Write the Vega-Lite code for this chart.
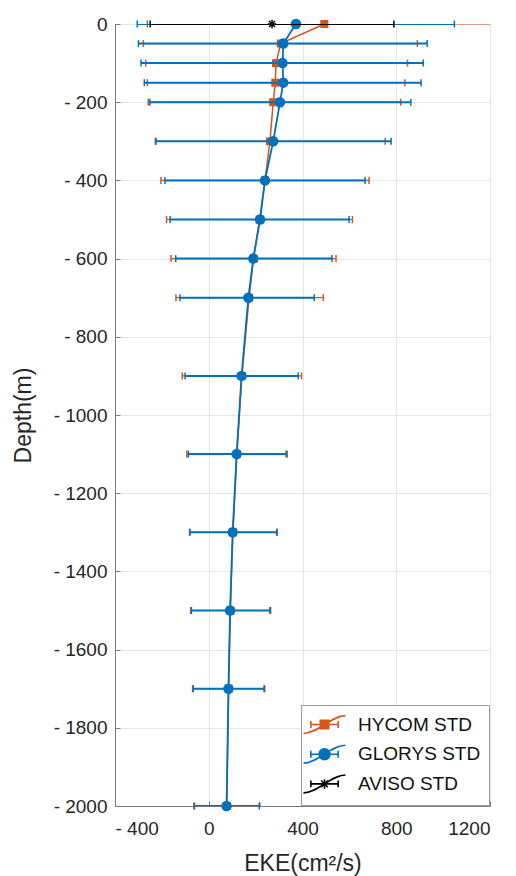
{
  "$schema": "https://vega.github.io/schema/vega-lite/v6.json",
  "width": 375,
  "height": 782,
  "autosize": {"type": "none"},
  "padding": {"left": 115, "top": 24, "right": 26, "bottom": 70},
  "background": "white",
  "config": {
    "font": "Liberation Sans",
    "view": {"stroke": "#7a7a7a", "strokeWidth": 1},
    "axis": {
      "labelFont": "Liberation Sans",
      "labelFontSize": 19,
      "labelColor": "#262626",
      "titleFont": "Liberation Sans",
      "titleFontSize": 23,
      "titleFontWeight": "normal",
      "titleColor": "#262626",
      "gridColor": "#e6e6e6",
      "gridWidth": 1,
      "domainColor": "#7a7a7a",
      "domainWidth": 1,
      "tickColor": "#7a7a7a",
      "tickSize": -5,
      "tickWidth": 1
    },
    "legend": {
      "orient": "bottom-right",
      "offset": 1,
      "fillColor": "white",
      "strokeColor": "#9a9a9a",
      "padding": 8,
      "labelFont": "Liberation Sans",
      "labelFontSize": 19,
      "labelColor": "#111111",
      "symbolSize": 441,
      "rowPadding": 4.7,
      "symbolOffset": 4,
      "labelOffset": 22,
      "title": null
    }
  },
  "data": {
    "values": [
      {"model": "HYCOM STD", "depth": 0, "mean": 493, "lo": -262, "hi": 1248},
      {"model": "HYCOM STD", "depth": -50, "mean": 307, "lo": -279, "hi": 890},
      {"model": "HYCOM STD", "depth": -100, "mean": 287, "lo": -269, "hi": 848},
      {"model": "HYCOM STD", "depth": -150, "mean": 284, "lo": -262, "hi": 837},
      {"model": "HYCOM STD", "depth": -200, "mean": 275, "lo": -258, "hi": 819},
      {"model": "HYCOM STD", "depth": -300, "mean": 261, "lo": -228, "hi": 753},
      {"model": "HYCOM STD", "depth": -400, "mean": 240, "lo": -204, "hi": 684},
      {"model": "HYCOM STD", "depth": -500, "mean": 217, "lo": -180, "hi": 613},
      {"model": "HYCOM STD", "depth": -600, "mean": 191, "lo": -161, "hi": 543},
      {"model": "HYCOM STD", "depth": -700, "mean": 172, "lo": -140, "hi": 489},
      {"model": "HYCOM STD", "depth": -900, "mean": 141, "lo": -113, "hi": 396},
      {"model": "HYCOM STD", "depth": -1100, "mean": 120, "lo": -94, "hi": 335},
      {"model": "HYCOM STD", "depth": -1300, "mean": 103, "lo": -82, "hi": 292},
      {"model": "HYCOM STD", "depth": -1500, "mean": 92, "lo": -77, "hi": 264},
      {"model": "HYCOM STD", "depth": -1700, "mean": 85, "lo": -69, "hi": 239},
      {"model": "HYCOM STD", "depth": -2000, "mean": 77, "lo": -63, "hi": 218},
      {"model": "GLORYS STD", "depth": 0, "mean": 372, "lo": -305, "hi": 1048},
      {"model": "GLORYS STD", "depth": -50, "mean": 318, "lo": -300, "hi": 932},
      {"model": "GLORYS STD", "depth": -100, "mean": 315, "lo": -289, "hi": 915},
      {"model": "GLORYS STD", "depth": -150, "mean": 318, "lo": -275, "hi": 906},
      {"model": "GLORYS STD", "depth": -200, "mean": 304, "lo": -251, "hi": 862},
      {"model": "GLORYS STD", "depth": -300, "mean": 275, "lo": -225, "hi": 778},
      {"model": "GLORYS STD", "depth": -400, "mean": 240, "lo": -187, "hi": 667},
      {"model": "GLORYS STD", "depth": -500, "mean": 219, "lo": -165, "hi": 599},
      {"model": "GLORYS STD", "depth": -600, "mean": 190, "lo": -141, "hi": 526},
      {"model": "GLORYS STD", "depth": -700, "mean": 169, "lo": -123, "hi": 450},
      {"model": "GLORYS STD", "depth": -900, "mean": 140, "lo": -101, "hi": 382},
      {"model": "GLORYS STD", "depth": -1100, "mean": 119, "lo": -87, "hi": 330},
      {"model": "GLORYS STD", "depth": -1300, "mean": 102, "lo": -80, "hi": 290},
      {"model": "GLORYS STD", "depth": -1500, "mean": 91, "lo": -74, "hi": 261},
      {"model": "GLORYS STD", "depth": -1700, "mean": 84, "lo": -66, "hi": 236},
      {"model": "GLORYS STD", "depth": -2000, "mean": 76, "lo": -61, "hi": 216},
      {"model": "AVISO STD", "depth": 0, "mean": 270, "lo": -250, "hi": 790}
    ]
  },
  "encoding": {
    "y": {
      "field": "depth",
      "type": "quantitative",
      "scale": {"domain": [-2000, 0], "nice": false, "zero": false},
      "axis": {
        "title": "Depth(m)",
        "values": [0, -200, -400, -600, -800, -1000, -1200, -1400, -1600, -1800, -2000],
        "labelExpr": "datum.value < 0 ? '- ' + format(-datum.value, 'd') : '0'",
        "labelPadding": 13,
        "titlePadding": 18,
        "grid": true
      }
    }
  },
  "layer": [
    {
      "transform": [{"filter": "datum.model == 'HYCOM STD'"}],
      "layer": [
        {
          "mark": {"type": "rule", "strokeWidth": 1.2, "clip": true},
          "encoding": {
            "x": {
              "field": "lo", "type": "quantitative",
              "scale": {"domain": [-400, 1200], "nice": false, "zero": false},
              "axis": {
                "title": "EKE(cm²/s)",
                "values": [-400, 0, 400, 800, 1200],
                "labelExpr": "datum.value < 0 ? '- ' + format(-datum.value, 'd') : format(datum.value, 'd')",
                "labelPadding": 18,
                "titlePadding": 14,
                "grid": true
              }
            },
            "x2": {"field": "hi"},
            "color": {
              "field": "model", "type": "nominal",
              "scale": {"domain": ["HYCOM STD", "GLORYS STD", "AVISO STD"], "range": ["#D95319", "#0072BD", "#000000"]},
              "legend": {
                "encode": {
                  "symbols": {
                    "update": {
                      "shape": {"signal": "datum.value == 'HYCOM STD' ? 'M-2,0.85C-0.6,0.85 0.6,-0.85 2,-0.85C0.6,-0.85 -0.6,0.85 -2,0.85M-1.3,0L1.3,0M-1.3,-0.33L-1.3,0.33M1.3,-0.33L1.3,0.33M-0.4,-0.4L0.4,-0.4L0.4,0.4L-0.4,0.4Z' : datum.value == 'GLORYS STD' ? 'M-2,0.85C-0.6,0.85 0.6,-0.85 2,-0.85C0.6,-0.85 -0.6,0.85 -2,0.85M-1.3,0L1.3,0M-1.3,-0.33L-1.3,0.33M1.3,-0.33L1.3,0.33M-0.52,0A0.52,0.52 0 1,0 0.52,0A0.52,0.52 0 1,0 -0.52,0Z' : 'M-2,0.85C-0.6,0.85 0.6,-0.85 2,-0.85C0.6,-0.85 -0.6,0.85 -2,0.85M-1.3,0L1.3,0M-1.3,-0.33L-1.3,0.33M1.3,-0.33L1.3,0.33M-0.45,0L0.45,0M0,-0.45L0,0.45M-0.32,-0.32L0.32,0.32M-0.32,0.32L0.32,-0.32'"},
                      "fill": {"signal": "datum.value == 'HYCOM STD' ? '#D95319' : datum.value == 'GLORYS STD' ? '#0072BD' : '#000000'"},
                      "stroke": {"signal": "datum.value == 'HYCOM STD' ? '#D95319' : datum.value == 'GLORYS STD' ? '#0072BD' : '#000000'"},
                      "strokeWidth": {"value": 1.6},
                      "opacity": {"value": 1},
                      "fillOpacity": {"value": 1},
                      "strokeOpacity": {"value": 1}
                    }
                  }
                }
              }
            }
          }
        },
        {
          "mark": {"type": "tick", "orient": "vertical", "size": 7, "thickness": 1.5, "clip": false, "opacity": 1},
          "encoding": {
            "x": {"field": "lo", "type": "quantitative", "title": "EKE(cm²/s)"},
            "color": {"field": "model", "type": "nominal", "legend": null}
          }
        },
        {
          "mark": {"type": "tick", "orient": "vertical", "size": 7, "thickness": 1.5, "clip": true, "opacity": 1},
          "encoding": {
            "x": {"field": "hi", "type": "quantitative", "title": "EKE(cm²/s)"},
            "color": {"field": "model", "type": "nominal", "legend": null}
          }
        },
        {
          "mark": {"type": "line", "strokeWidth": 1.5},
          "encoding": {
            "x": {"field": "mean", "type": "quantitative", "title": "EKE(cm²/s)"},
            "order": {"field": "depth", "type": "quantitative"},
            "color": {"field": "model", "type": "nominal", "legend": null}
          }
        },
        {
          "mark": {"type": "point", "shape": "square", "filled": true, "size": 64, "opacity": 1},
          "encoding": {
            "x": {"field": "mean", "type": "quantitative", "title": "EKE(cm²/s)"},
            "color": {"field": "model", "type": "nominal", "legend": null}
          }
        }
      ]
    },
    {
      "transform": [{"filter": "datum.model == 'GLORYS STD'"}],
      "layer": [
        {
          "mark": {"type": "rule", "strokeWidth": 2, "clip": true},
          "encoding": {
            "x": {"field": "lo", "type": "quantitative", "title": "EKE(cm²/s)"},
            "x2": {"field": "hi"},
            "color": {"field": "model", "type": "nominal", "legend": null}
          }
        },
        {
          "mark": {"type": "tick", "orient": "vertical", "size": 7, "thickness": 1.5, "clip": false, "opacity": 1},
          "encoding": {
            "x": {"field": "lo", "type": "quantitative", "title": "EKE(cm²/s)"},
            "color": {"field": "model", "type": "nominal", "legend": null}
          }
        },
        {
          "mark": {"type": "tick", "orient": "vertical", "size": 7, "thickness": 1.5, "clip": false, "opacity": 1},
          "encoding": {
            "x": {"field": "hi", "type": "quantitative", "title": "EKE(cm²/s)"},
            "color": {"field": "model", "type": "nominal", "legend": null}
          }
        },
        {
          "mark": {"type": "line", "strokeWidth": 1.8},
          "encoding": {
            "x": {"field": "mean", "type": "quantitative", "title": "EKE(cm²/s)"},
            "order": {"field": "depth", "type": "quantitative"},
            "color": {"field": "model", "type": "nominal", "legend": null}
          }
        },
        {
          "mark": {"type": "point", "shape": "circle", "filled": true, "size": 110, "opacity": 1},
          "encoding": {
            "x": {"field": "mean", "type": "quantitative", "title": "EKE(cm²/s)"},
            "color": {"field": "model", "type": "nominal", "legend": null}
          }
        }
      ]
    },
    {
      "transform": [{"filter": "datum.model == 'AVISO STD'"}],
      "layer": [
        {
          "mark": {"type": "rule", "strokeWidth": 2, "clip": true},
          "encoding": {
            "x": {"field": "lo", "type": "quantitative", "title": "EKE(cm²/s)"},
            "x2": {"field": "hi"},
            "color": {"field": "model", "type": "nominal", "legend": null}
          }
        },
        {
          "mark": {"type": "tick", "orient": "vertical", "size": 7, "thickness": 1.5, "clip": false, "opacity": 1},
          "encoding": {
            "x": {"field": "lo", "type": "quantitative", "title": "EKE(cm²/s)"},
            "color": {"field": "model", "type": "nominal", "legend": null}
          }
        },
        {
          "mark": {"type": "tick", "orient": "vertical", "size": 7, "thickness": 1.5, "clip": false, "opacity": 1},
          "encoding": {
            "x": {"field": "hi", "type": "quantitative", "title": "EKE(cm²/s)"},
            "color": {"field": "model", "type": "nominal", "legend": null}
          }
        },
        {
          "mark": {"type": "point", "shape": "M-1,0L1,0M0,-1L0,1M-0.7,-0.7L0.7,0.7M-0.7,0.7L0.7,-0.7", "filled": false, "size": 70, "strokeWidth": 1.5, "opacity": 1},
          "encoding": {
            "x": {"field": "mean", "type": "quantitative", "title": "EKE(cm²/s)"},
            "color": {"field": "model", "type": "nominal", "legend": null}
          }
        }
      ]
    }
  ]
}
